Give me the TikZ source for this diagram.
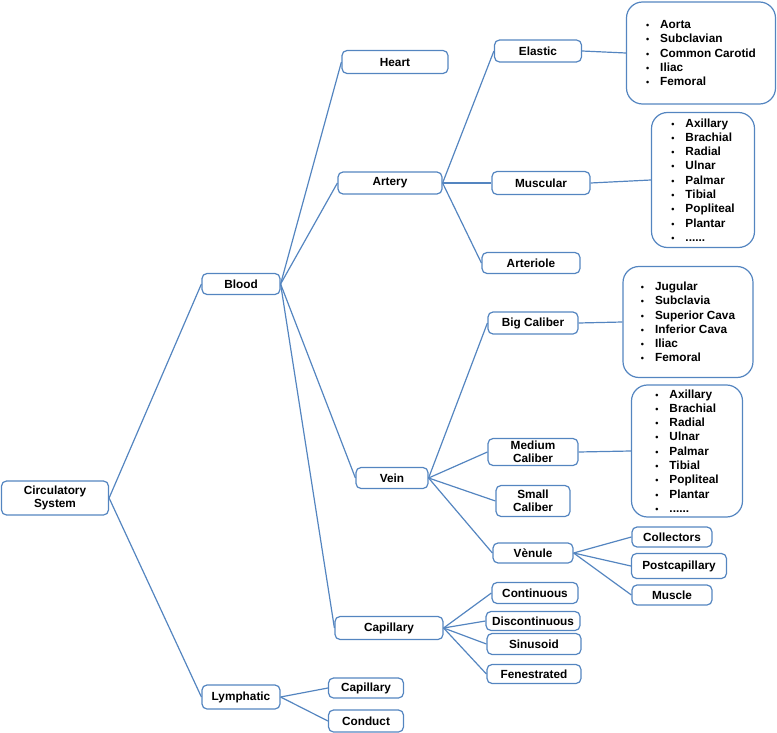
\documentclass[tikz,border=0pt]{standalone}
\usepackage{fontspec}
\setmainfont{Liberation Sans}
\usetikzlibrary{positioning}
\definecolor{linec}{RGB}{84,133,192}
\newcommand{\bul}{{\fontsize{9}{9}\selectfont\textbullet}\hspace{11pt}}

\begin{document}
\begin{tikzpicture}[x=1pt,y=-1pt,on grid,
    font=\bfseries\fontsize{11.8}{13.5}\selectfont,
    box/.style={draw=linec,line width=1.2pt,rounded corners=5pt,inner sep=1pt,align=center},
    list/.style={draw=linec,line width=1.2pt,rounded corners=16pt,inner sep=2pt,align=left,
                 font=\bfseries\fontsize{11.8}{14.3}\selectfont},
    every edge/.style={draw=linec,line width=1.2pt}]
   \useasboundingbox (0,0) rectangle (777,733);

   \node[box,minimum width=107pt,minimum height=34pt] (circ) at (55,498) {Circulatory\\System};
   \node[box,minimum width=78pt,minimum height=21pt] (blood) [above right=214pt and 186pt of circ] {Blood};
   \node[box,minimum width=78pt,minimum height=24pt] (lymph) [below right=199pt and 186pt of circ] {Lymphatic};

   \node[box,minimum width=106pt,minimum height=23pt] (heart) [above right=222pt and 154pt of blood] {Heart};
   \node[box,minimum width=104pt,minimum height=22pt] (artery) [above right=101pt and 149pt of blood] {Artery};
   \node[box,minimum width=72pt,minimum height=21pt] (vein) [below right=194pt and 151pt of blood] {Vein};
   \node[box,minimum width=108pt,minimum height=23pt] (capb) [below right=344pt and 148pt of blood] {Capillary};

   \node[box,minimum width=87pt,minimum height=22pt] (elastic) [above right=132pt and 148pt of artery] {Elastic};
   \node[box,minimum width=98pt,minimum height=23pt] (muscular) [right=151pt of artery] {Muscular};
   \node[box,minimum width=98pt,minimum height=21pt] (arteriole) [below right=80pt and 141pt of artery] {Arteriole};

   \node[box,minimum width=90pt,minimum height=22pt] (bigcal) [above right=155pt and 141pt of vein] {Big Caliber};
   \node[box,minimum width=90pt,minimum height=27pt] (medcal) [above right=26pt and 141pt of vein] {Medium\\Caliber};
   \node[box,minimum width=74pt,minimum height=31pt] (smallcal) [below right=23pt and 141pt of vein] {Small\\Caliber};
   \node[box,minimum width=80pt,minimum height=20pt] (venule) [below right=75pt and 141pt of vein] {Vènule};

   \node[box,minimum width=80pt,minimum height=20pt] (collectors) [above right=16pt and 139pt of venule] {Collectors};
   \node[box,minimum width=95pt,minimum height=25pt] (postcap) [below right=13pt and 146pt of venule] {Postcapillary};
   \node[box,minimum width=80pt,minimum height=20pt] (muscle) [below right=42pt and 139pt of venule] {Muscle};

   \node[box,minimum width=86pt,minimum height=21pt] (continuous) [above right=35pt and 146pt of capb] {Continuous};
   \node[box,minimum width=94pt,minimum height=19pt] (discont) [above right=7pt and 144pt of capb] {Discontinuous};
   \node[box,minimum width=94pt,minimum height=21pt] (sinusoid) [below right=16pt and 145pt of capb] {Sinusoid};
   \node[box,minimum width=94pt,minimum height=19pt] (fenest) [below right=46pt and 145pt of capb] {Fenestrated};

   \node[box,minimum width=75pt,minimum height=20pt] (lcap) [above right=9pt and 125pt of lymph] {Capillary};
   \node[box,minimum width=75pt,minimum height=22pt] (conduct) [below right=24pt and 125pt of lymph] {Conduct};

   \node[list,minimum width=149pt,minimum height=102pt] (elist) [below right=2pt and 163pt of elastic]
      {\bul Aorta\\ \bul Subclavian\\ \bul Common Carotid\\ \bul Iliac\\ \bul Femoral};
   \node[list,minimum width=103pt,minimum height=135pt] (mlist) [above right=3pt and 162pt of muscular]
      {\bul Axillary\\ \bul Brachial\\ \bul Radial\\ \bul Ulnar\\ \bul Palmar\\ \bul Tibial\\
       \bul Popliteal\\ \bul Plantar\\ \bul ......};
   \node[list,minimum width=130pt,minimum height=111pt] (blist) [above right=1pt and 155pt of bigcal]
      {\bul Jugular\\ \bul Subclavia\\ \bul Superior Cava\\ \bul Inferior Cava\\ \bul Iliac\\ \bul Femoral};
   \node[list,minimum width=111pt,minimum height=132pt] (vlist) [above right=1pt and 154pt of medcal]
      {\bul Axillary\\ \bul Brachial\\ \bul Radial\\ \bul Ulnar\\ \bul Palmar\\ \bul Tibial\\
       \bul Popliteal\\ \bul Plantar\\ \bul ......};

   \path (circ.east) edge (blood.west);
   \path (circ.east) edge (lymph.west);

   \path (blood.east) edge (heart.west);
   \path (blood.east) edge (artery.west);
   \path (blood.east) edge (vein.west);
   \path (blood.east) edge (capb.west);

   \path (artery.east) edge (elastic.west);
   \path (artery.east) edge (muscular.west);
   \path (artery.east) edge (arteriole.west);
   \path (elastic.east) edge (elist.west);
   \path (muscular.east) edge (mlist.west);

   \path (vein.east) edge (bigcal.west);
   \path (vein.east) edge (medcal.west);
   \path (vein.east) edge (smallcal.west);
   \path (vein.east) edge (venule.west);
   \path (bigcal.east) edge (blist.west);
   \path (medcal.east) edge (vlist.west);

   \path (venule.east) edge (collectors.west);
   \path (venule.east) edge (postcap.west);
   \path (venule.east) edge (muscle.west);

   \path (capb.east) edge (continuous.west);
   \path (capb.east) edge (discont.west);
   \path (capb.east) edge (sinusoid.west);
   \path (capb.east) edge (fenest.west);

   \path (lymph.east) edge (lcap.west);
   \path (lymph.east) edge (conduct.west);
\end{tikzpicture}
\end{document}
